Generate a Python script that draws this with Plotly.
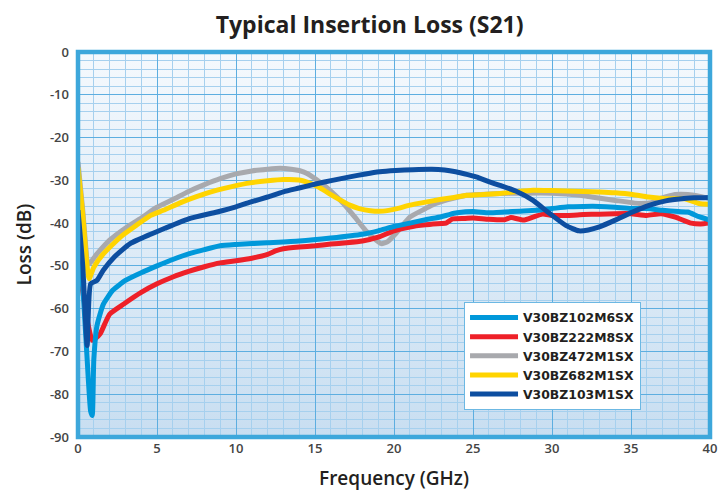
import base64
import plotly.graph_objects as go

# ---------------- data ----------------
names = ["V30BZ102M6SX", "V30BZ222M8SX", "V30BZ472M1SX", "V30BZ682M1SX", "V30BZ103M1SX"]

f_102 = [0, 0.3, 0.55, 0.8, 0.9, 1.0, 1.2, 1.6, 2.2, 3.0, 4.0, 5.0, 6.0, 7.0, 8.0, 9.0, 10, 12, 14, 16, 18, 19, 20,
         21, 22, 23, 23.5, 24, 25, 26, 27, 28, 29, 30, 31, 32, 33, 34, 35, 36, 37, 38, 38.6, 39.3, 40]
db_102 = [-46, -55, -70, -84, -85, -72, -64, -59, -55.7, -53.4, -51.6, -50, -48.5, -47.2, -46.2, -45.3, -45, -44.6,
          -44.2, -43.5, -42.6, -41.8, -40.8, -40, -39.2, -38.5, -38, -37.6, -37.3, -37.6, -37.4, -37.2, -37, -36.6,
          -36.2, -36.1, -36.1, -36.3, -36.6, -36.6, -37, -37.3, -37.4, -38.5, -39.3]

f_222 = [0, 0.3, 0.6, 0.9, 1.1, 1.4, 2.0, 2.9, 4.0, 5.0, 6.0, 7.0, 8.0, 9.0, 10, 11, 12, 12.5, 13, 14, 15, 16, 17, 18,
         19, 20, 21, 22, 23, 23.3, 23.7, 24.5, 25, 26, 27, 27.4, 28.2, 28.8, 29.4, 30, 31, 32, 33, 34, 35, 36, 36.9,
         37.8, 38.8, 39.4, 40]
db_222 = [-50, -56, -63, -67.4, -67, -65.9, -61.3, -58.9, -56.2, -54.2, -52.6, -51.3, -50.2, -49.3, -48.8, -48.2,
          -47.3, -46.5, -46, -45.6, -45.3, -44.9, -44.6, -44.2, -43.3, -41.8, -40.9, -40.4, -40.1, -40, -39, -38.9,
          -38.8, -39.1, -39.2, -38.7, -39.3, -38.6, -37.9, -38.2, -38.2, -38, -37.9, -37.8, -37.8, -38.2, -37.8,
          -38.6, -40, -40.2, -40]

f_472 = [0, 0.3, 0.68, 1.2, 2.0, 3.1, 4.0, 5.0, 6.0, 7.0, 8.0, 9.0, 10, 11, 12, 12.8, 13.5, 14.0, 14.5, 15.3, 16, 16.8,
         17.5, 18.2, 18.8, 19.2, 19.6, 20.1, 20.5, 21, 22, 22.4, 23, 24, 24.6, 25.5, 26.7, 28, 30, 31.8, 32.5, 34,
         35.5, 36.3, 36.8, 37.8, 38.6, 39.3, 40]
db_472 = [-25.7, -37, -49.5, -47.2, -44, -40.9, -38.8, -36.3, -34.5, -32.6, -31, -29.6, -28.5, -27.8, -27.4, -27.2,
          -27.4, -27.7, -28.4, -30.4, -32.5, -35.4, -38.5, -41.7, -43.8, -44.8, -44.3, -42.5, -40.7, -38.6, -36.6,
          -35.8, -35, -34, -33.5, -33.3, -33.1, -33, -33, -33.5, -33.9, -34.7, -35.4, -35.2, -34.3, -33.3, -33.3,
          -33.7, -34.3]

f_682 = [0, 0.3, 0.7, 1.0, 1.6, 2.7, 3.7, 4.6, 5.4, 6.5, 7.5, 8.8, 9.8, 10.9, 12, 13, 14, 14.5, 15.2, 15.9, 16.5, 17.2,
         17.8, 18.5, 19.3, 20.2, 21, 22, 22.9, 23.8, 24.6, 25.7, 26.7, 27.8, 28.8, 30, 30.9, 32, 33, 34, 35.1, 36.1,
         37.2, 38.4, 39.3, 40]
db_682 = [-27, -38, -53, -50.3, -47.2, -43.2, -40.5, -38.2, -37, -35.2, -33.8, -32.3, -31.4, -30.6, -30.1, -29.8,
          -29.9, -30.4, -31.5, -33.1, -34.4, -35.8, -36.6, -37.1, -37.2, -36.6, -35.8, -35.1, -34.5, -34, -33.5,
          -33.3, -33.1, -32.6, -32.3, -32.4, -32.5, -32.6, -32.7, -32.9, -33.3, -33.9, -34.3, -34.3, -35.4, -35.6]

f_103 = [0, 0.3, 0.58, 0.8, 1.2, 1.6, 2.3, 3.3, 4.6, 5.5, 7, 8.8, 10, 10.9, 12, 13, 14, 15.1, 16.1, 17.2, 18.2, 19.1,
         20.1, 21.2, 22.4, 23.2, 23.9, 24.6, 25.2, 26, 26.7, 27.7, 28.8, 29.8, 30.9, 31.7, 32.3, 33, 34, 35.1, 36.1,
         37.2, 38.2, 39, 40]
db_103 = [-37, -50, -68.6, -54.2, -53.4, -51, -47.9, -44.8, -42.6, -41.2, -39, -37.4, -36.2, -35.1, -33.9, -32.7,
          -31.8, -30.8, -30, -29.2, -28.5, -28, -27.7, -27.5, -27.4, -27.6, -28, -28.6, -29.2, -30.3, -31.2, -32.5,
          -34.7, -37.6, -40.6, -41.8, -41.6, -40.9, -39.3, -37.4, -35.9, -34.8, -34.3, -34.1, -34]

x_ticks = [0, 5, 10, 15, 20, 25, 30, 35, 40]
x_tick_text = ["0", "5", "10", "15", "20", "25", "30", "35", "40"]
y_ticks = [0, -10, -20, -30, -40, -50, -60, -70, -80, -90]
y_tick_text = ["0", "-10", "-20", "-30", "-40", "-50", "-60", "-70", "-80", "-90"]

colors = {"V30BZ102M6SX": "#0098da", "V30BZ222M8SX": "#ee2028", "V30BZ472M1SX": "#a8a9ad",
          "V30BZ682M1SX": "#ffd400", "V30BZ103M1SX": "#0d4ea0"}

series = {"V30BZ102M6SX": (f_102, db_102), "V30BZ222M8SX": (f_222, db_222), "V30BZ472M1SX": (f_472, db_472),
          "V30BZ682M1SX": (f_682, db_682), "V30BZ103M1SX": (f_103, db_103)}

draw_order = ["V30BZ472M1SX", "V30BZ682M1SX", "V30BZ222M8SX", "V30BZ102M6SX", "V30BZ103M1SX"]

fig = go.Figure()
for nm in draw_order:
    fx, fy = series[nm]
    fig.add_trace(go.Scatter(x=fx, y=fy, name=nm, mode="lines",
                             line=dict(color=colors[nm], width=5, shape="spline", smoothing=0.5),
                             legendrank=names.index(nm) + 1))

svg = ('<svg xmlns="http://www.w3.org/2000/svg" width="10" height="100" viewBox="0 0 10 100" '
       'preserveAspectRatio="none"><defs><linearGradient id="g" x1="0" y1="0" x2="0" y2="1">'
       '<stop offset="0" stop-color="#f5f9fd"/><stop offset="1" stop-color="#c8def1"/></linearGradient></defs>'
       '<rect width="10" height="100" fill="url(#g)"/></svg>')
src = "data:image/svg+xml;base64," + base64.b64encode(svg.encode()).decode()
fig.add_layout_image(dict(source=src, xref="x", yref="y", x=0, y=0, sizex=40, sizey=90,
                          sizing="stretch", xanchor="left", yanchor="top", layer="below"))

# thick blue frame around the plotting area
fig.add_shape(type="rect", xref="paper", yref="paper", x0=0, x1=1, y0=0, y1=1,
              line=dict(color="#3da7db", width=4.5), fillcolor="rgba(0,0,0,0)", layer="above")

axis_common = dict(showline=False, zeroline=False, automargin=False, ticks="",
                   tickfont=dict(family="Open Sans", size=13, color="#444444", weight=600))

fig.update_xaxes(range=[0, 40], tickvals=x_ticks, ticktext=x_tick_text, showgrid=True, gridcolor="#5daee0",
                 gridwidth=1.3, minor=dict(dtick=1, showgrid=True, gridcolor="#a6d0ee", gridwidth=1),
                 title=dict(text="Frequency (GHz)", font=dict(family="Open Sans", size=19, color="#231f20",
                                                              weight=600), standoff=15),
                 ticklabelstandoff=2, **axis_common)
fig.update_yaxes(range=[-90, 0], tickvals=y_ticks, ticktext=y_tick_text, showgrid=True, gridcolor="#5daee0",
                 gridwidth=1.3, minor=dict(dtick=2, showgrid=True, gridcolor="#a6d0ee", gridwidth=1),
                 title=dict(text="Loss (dB)", font=dict(family="Open Sans", size=19, color="#231f20",
                                                        weight=600), standoff=13),
                 ticklabelstandoff=8, **axis_common)

# the page adds an 8px body margin, so the figure is sized/offset to compensate
fig.update_layout(
    width=719, height=485,
    margin=dict(l=70, r=17, t=44, b=56),
    paper_bgcolor="white", plot_bgcolor="rgba(0,0,0,0)",
    title=dict(text="<b>Typical Insertion Loss (S21)</b>", x=0.503, xanchor="center", y=0.966, yanchor="middle",
               font=dict(family="Open Sans", size=23, color="#231f20")),
    legend=dict(x=0.6108, y=0.3506, xanchor="left", yanchor="top", bgcolor="white",
                bordercolor="#6cb8e3", borderwidth=1,
                font=dict(family="DejaVu Sans", size=12.4, color="#231f20", weight="bold"),
                itemwidth=48, tracegroupgap=0),
    showlegend=True,
)

fig.write_html("out.html")
